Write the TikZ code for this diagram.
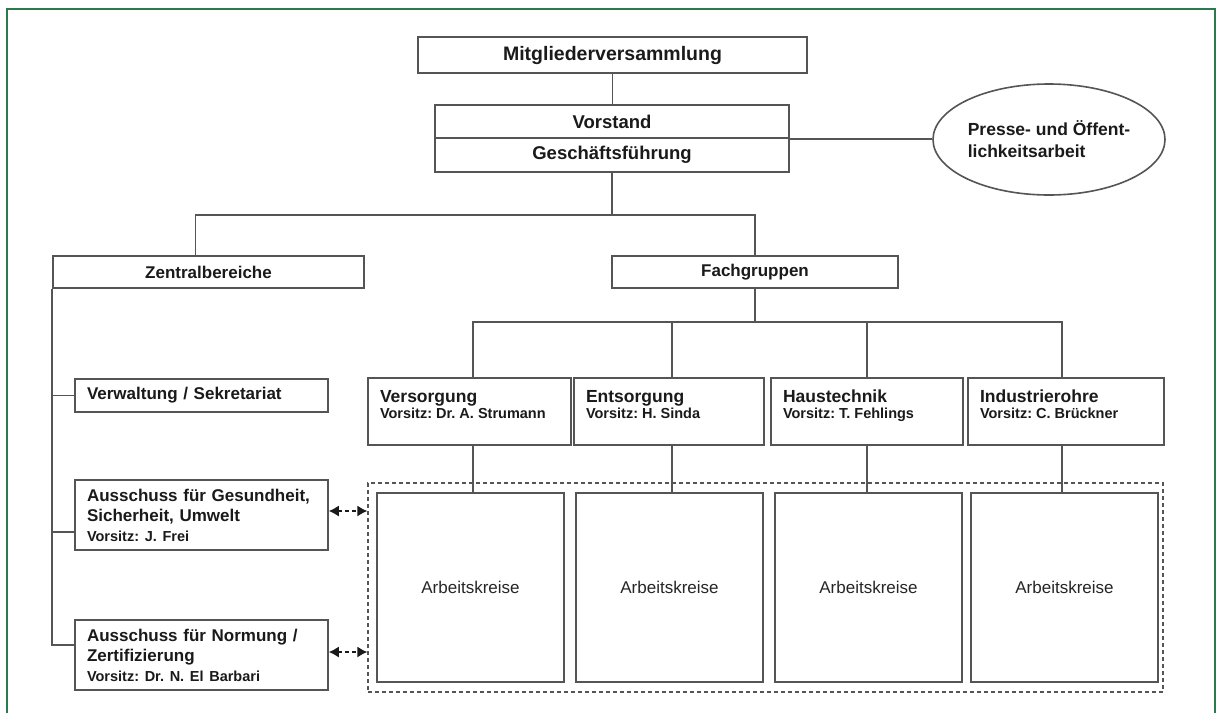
\documentclass[tikz,border=0pt]{standalone}
\usepackage{fontspec}
\setmainfont{Liberation Sans}
\usetikzlibrary{shapes.geometric,arrows.meta}
\definecolor{rahmen}{HTML}{2A7A4E}
\definecolor{linie}{HTML}{555555}
\definecolor{schrift}{HTML}{1A1A1A}
\newcommand{\vorsitz}[1]{{\fontsize{14.5}{16}\selectfont Vorsitz: #1}}
\newcommand{\fgtext}[3]{\parbox[c][67pt][t]{#1}{\raggedright\vspace*{12pt}\fontsize{17.5}{18}\selectfont #2\\[-2pt]\vorsitz{#3}}}

\begin{document}
\frenchspacing
\begin{tikzpicture}[x=1pt, y=-1pt,
  box/.style={draw=linie, line width=1.6pt, fill=white, text=schrift, inner sep=0pt,
    font=\fontsize{17}{20}\selectfont\bfseries},
  zbbox/.style={box, text width=229pt, align=left, inner xsep=12pt},
  fgbox/.style={box, inner xsep=12pt, inner ysep=0pt, minimum height=67pt},
  akbox/.style={box, minimum width=187pt, minimum height=189pt, text=black!85,
    font=\fontsize{17}{20}\selectfont},
  gruppe/.style={draw=linie, line width=1.3pt, dash pattern=on 4pt off 3pt},
  conn/.style={draw=linie, line width=1.6pt},
  pfeil/.style={draw=schrift, line width=1.3pt, dash pattern=on 4pt off 3pt,
    {Latex[length=10pt,width=11pt]}-{Latex[length=10pt,width=11pt]}}]
\useasboundingbox (0,0) rectangle (1221,713);
\fill[white] (0,0) rectangle (1221,713);
\draw[rahmen, line width=2.5pt] (7,713) -- (7,9) -- (1215,9) -- (1215,713);

% Leitung
\node[box, minimum width=389pt, minimum height=36pt, font=\fontsize{19.5}{22}\selectfont\bfseries] (mv) at (612.5,55) {Mitgliederversammlung};
\node[box, minimum width=354pt, minimum height=33pt, font=\fontsize{18.5}{22}\selectfont\bfseries] (vor) at (612,121.5) {Vorstand};
\node[box, minimum width=354pt, minimum height=34pt, font=\fontsize{18.5}{22}\selectfont\bfseries] (gf) at (612,155) {Geschäftsführung};
\node[box, ellipse, minimum width=232pt, minimum height=111pt, align=left, font=\fontsize{17.5}{22}\selectfont\bfseries] (pr) at (1049,139.5) {Presse- und Öffent-\\lichkeitsarbeit};

% Bereiche
\node[box, minimum width=311pt, minimum height=32pt] (zb) at (208.5,272) {Zentralbereiche};
\node[box, minimum width=286pt, minimum height=32pt] (fg) at (755,272) {Fachgruppen};

% Zentralbereiche
\node[zbbox, minimum height=33pt] (vw) at (201.5,395.5) {Verwaltung / Sekretariat};
\node[zbbox, minimum height=70pt] (ag) at (201.5,515) {Ausschuss für Gesundheit,\\Sicherheit, Umwelt\\\vorsitz{J. Frei}};
\node[zbbox, minimum height=70pt] (an) at (201.5,655) {Ausschuss für Normung /\\Zertifizierung\\\vorsitz{Dr. N. El Barbari}};

% Fachgruppen
\node[fgbox] (vs) at (469.5,411.5) {\fgtext{179pt}{Versorgung}{Dr. A. Strumann}};
\node[fgbox] (es) at (669,411.5) {\fgtext{166pt}{Entsorgung}{H. Sinda}};
\node[fgbox] (ht) at (867,411.5) {\fgtext{168pt}{Haustechnik}{T. Fehlings}};
\node[fgbox] (ir) at (1066,411.5) {\fgtext{172pt}{Industrierohre}{C. Brückner}};

% Arbeitskreise
\node[gruppe, minimum width=795pt, minimum height=209pt] (akg) at (765.5,587.5) {};
\node[akbox] (ak1) at (470.5,587.5) {Arbeitskreise};
\node[akbox] (ak2) at (669.5,587.5) {Arbeitskreise};
\node[akbox] (ak3) at (868.5,587.5) {Arbeitskreise};
\node[akbox] (ak4) at (1064.5,587.5) {Arbeitskreise};

% Verbindungen
\coordinate (b1) at (612,215);
\coordinate (b2) at (755,322);
\draw[conn] (mv.south) -- (mv.south |- vor.north);
\draw[conn] (vor.south east) -- (vor.south east -| pr.west);
\draw[conn] (gf.south) -- (b1);
\draw[conn] ([xshift=-13pt]zb.north) |- (b1) -| (fg.north);
\draw[conn] (zb.south west) |- ([yshift=10pt]an.west);
\draw[conn] (zb.south west |- vw.west) -- (vw.west);
\coordinate (agin) at ([yshift=-17pt]ag.west);
\draw[conn] (zb.south west |- agin) -- (agin);
\draw[conn] (fg.south) -- (b2);
\draw[conn] ([xshift=3.5pt]vs.north) |- (b2) -| ([xshift=-4pt]ir.north);
\draw[conn] ([xshift=3pt]es.north) -- ([xshift=3pt]es.north |- b2);
\draw[conn] (ht.north) -- (ht.north |- b2);
\draw[conn] ([xshift=3.5pt]vs.south) -- ([xshift=3.5pt]vs.south |- ak1.north);
\draw[conn] ([xshift=3pt]es.south) -- ([xshift=3pt]es.south |- ak2.north);
\draw[conn] (ht.south) -- (ht.south |- ak3.north);
\draw[conn] ([xshift=-4pt]ir.south) -- ([xshift=-4pt]ir.south |- ak4.north);
\draw[pfeil] ([yshift=4pt]ag.east) -- ([yshift=4pt]ag.east -| akg.west);
\draw[pfeil] ([yshift=3pt]an.east) -- ([yshift=3pt]an.east -| akg.west);
\end{tikzpicture}
\end{document}
